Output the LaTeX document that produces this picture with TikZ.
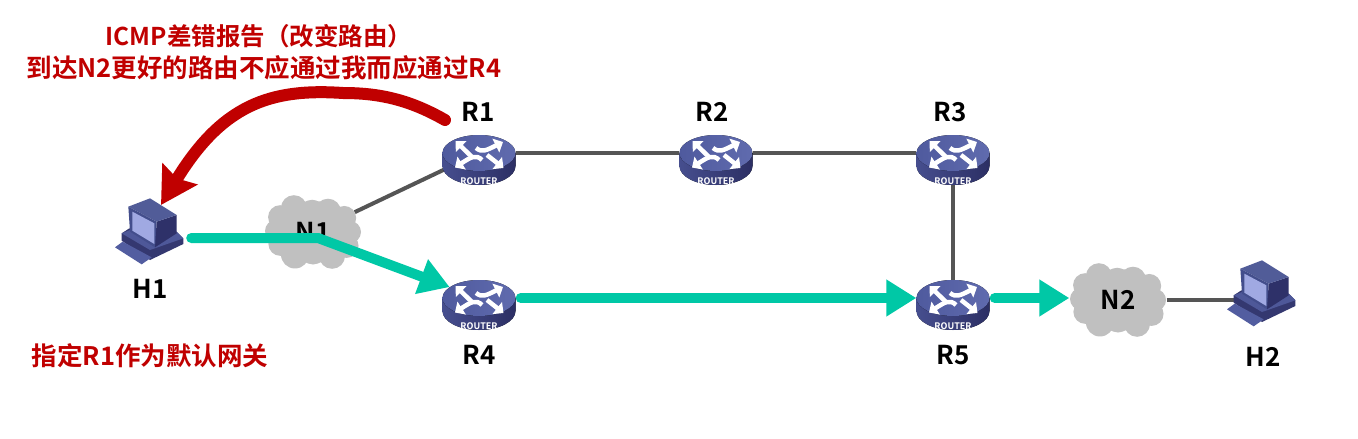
\documentclass[tikz,border=0pt]{standalone}
\usepackage{fontspec}
\setmainfont{Noto Sans CJK SC}[BoldFont={Noto Sans CJK SC Bold}]
\usetikzlibrary{arrows.meta,shapes.geometric}
\definecolor{tealc}{HTML}{00C8A6}
\definecolor{redc}{HTML}{C00000}
\definecolor{linkc}{HTML}{555555}
\definecolor{cloudc}{HTML}{C0C0C0}
\definecolor{rtop}{HTML}{4F5A9E}
\definecolor{rtopb}{HTML}{606BAE}
\definecolor{rside}{HTML}{464E8E}
\definecolor{rsideb}{HTML}{2C2F64}
\definecolor{hbase}{HTML}{343870}
\definecolor{hkey}{HTML}{525DA0}
\definecolor{hdeck}{HTML}{4E5899}
\definecolor{hright}{HTML}{2E3169}
\definecolor{htop}{HTML}{515C98}
\definecolor{hfront}{HTML}{434E8C}
\definecolor{hscreen}{HTML}{A0A9E2}
\tikzset{
  routerbox/.style={ellipse,minimum width=73pt,minimum height=36pt,inner sep=0pt},
  hostbox/.style={rectangle,minimum width=82pt,minimum height=70pt,inner sep=0pt},
  cloudbox/.style={ellipse,minimum width=97pt,minimum height=76pt,inner sep=0pt},
  lab/.style={font=\fontsize{26}{26}\selectfont\bfseries,text=black,inner sep=0pt},
  redlab/.style={font=\fontsize{25.5}{25.5}\selectfont\bfseries,text=redc,inner sep=0pt},
  link/.style={draw=linkc,line width=4pt},
  teal/.style={draw=tealc,line width=10pt,line cap=round,-{Triangle[length=30pt,width=35pt]}},
  redarrow/.style={draw=redc,line width=12pt,line cap=round,-{Stealth[length=36pt,width=40pt,inset=5pt]}},
  rarrow/.style={draw=white,line width=4.5pt,-{Triangle[length=8pt,width=15pt]}},
  routerpic/.pic={
    \fill[left color=rside,right color=rsideb] (-36.5,0) -- (-36.5,13) arc[start angle=180,end angle=360,x radius=36.5,y radius=-19] -- (36.5,0) -- cycle;
    \fill[left color=rtop,right color=rtopb] (0,0) ellipse[x radius=36.5,y radius=18];
    \draw[rarrow] (-7,4) -- (-23.5,-12);
    \draw[rarrow] (-3,-5) .. controls (3,0) and (8,-3) .. (24,-11);
    \draw[rarrow] (3,7) .. controls (-3,1) and (-8,4) .. (-24,14.5);
    \draw[rarrow] (8,2) -- (24.5,15);
    \node[text=white,inner sep=0pt,font=\fontsize{9}{9}\selectfont\bfseries] at (0,28) {ROUTER};
  },
  hostpic/.pic={
    \begin{scope}[x=.3333pt,y=-.3333pt,shift={(-150,-204)}]
      \fill[hbase] (65,190) -- (88,175) -- (230,185) -- (250,205) -- (250,222) -- (150,270) -- (65,212) -- cycle;
      \fill[hkey] (45,232) -- (68,215) -- (155,262) -- (125,283) -- cycle;
      \fill[hdeck] (65,190) -- (150,240) -- (250,205) -- (230,185) -- (165,225) -- (90,180) -- cycle;
      \fill[hright] (170,155) -- (230,135) -- (230,190) -- (165,232) -- cycle;
      \fill[htop] (85,110) -- (150,85) -- (230,135) -- (170,155) -- cycle;
      \fill[hfront] (85,110) -- (170,155) -- (165,232) -- (90,185) -- cycle;
      \fill[hscreen] (97,125) -- (163,160) -- (163,222) -- (97,182) -- cycle;
    \end{scope}
  },
  cloudpic/.pic={
    \fill[cloudc] (0,0) ellipse[x radius=41,y radius=31];
    \foreach \a/\r/\s in {0/37/11,28/38/12,58/36/13,90/25/13,122/34/14,155/36/12,182/37/11,210/38/12,238/36/13,268/26/12,300/30/13,330/36/12}
      \fill[cloudc] ({\r*cos(\a)},{0.78*\r*sin(\a)}) circle[radius=\s];
  },
}
\begin{document}
\begin{tikzpicture}[x=1pt,y=-1pt]
\useasboundingbox (0,0) rectangle (1358,439);
\fill[white] (0,0) rectangle (1358,439);
% anchors
\node[routerbox] (R1) at (479,153) {};
\node[routerbox] (R2) at (716,153) {};
\node[routerbox] (R3) at (953,153) {};
\node[routerbox] (R4) at (479,298) {};
\node[routerbox] (R5) at (953,298) {};
\node[hostbox] (H1) at (150,238) {};
\node[hostbox] (H2) at (1262,300) {};
\coordinate (kink) at (318,238);
\coordinate (redstart) at (445,120);
\coordinate (redmid) at (343,93);
\coordinate (redtip) at (161,205);
% links
\draw[link] (R1) -- (R2);
\draw[link] (R2) -- (R3);
\draw[link] (R3) -- (R5);
% clouds
\node[cloudbox] (N1) at (313,232) {};
\node[cloudbox] (N2) at (1118,300) {};
\draw[link] (R1) -- (N1);
\draw[link] (N2) -- (H2.center);
\pic at (N1) {cloudpic};
\pic at (N2) {cloudpic};
\node[lab] (N1lab) at (313,232) {N1};
\node[lab] (N2lab) at (1118,300) {N2};
% devices
\foreach \n in {R1,R2,R3,R4,R5} \pic at (\n) {routerpic};
\pic at (H1) {hostpic};
\pic at (H2) {hostpic};
% labels
\node[lab] (R1lab) at (478,112) {R1};
\node[lab] (R2lab) at (712,112) {R2};
\node[lab] (R3lab) at (950,112) {R3};
\node[lab] (R4lab) at (479,355) {R4};
\node[lab] (R5lab) at (953,355) {R5};
\node[lab] (H1lab) at (150,289) {H1};
\node[lab] (H2lab) at (1263,357) {H2};
\node[redlab,font=\fontsize{24.5}{24.5}\selectfont\bfseries] (t1) at (259,36) {ICMP差错报告（改变路由）};
\node[redlab] (t2) at (264,68) {到达N2更好的路由不应通过我而应通过R4};
\node[redlab] (t3) at (150,356) {指定R1作为默认网关};
% flows
\draw[teal] (H1) -- (kink) -- (R4);
\draw[teal,shorten <=5pt] (R4) -- (R5);
\draw[teal,shorten <=5pt] (R5.east) -- (N2.west |- R5.east);
\draw[redarrow] (redstart) .. controls (410,100) and (380,93) .. (redmid) .. controls (270,88) and (222,105) .. (redtip);
\end{tikzpicture}
\end{document}
